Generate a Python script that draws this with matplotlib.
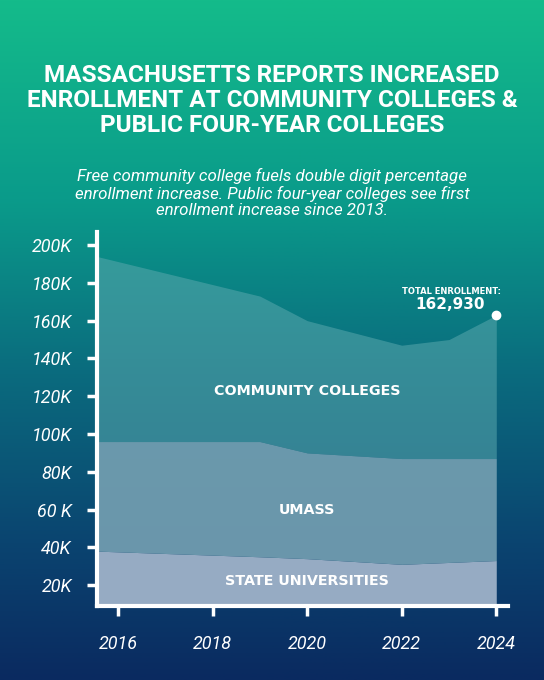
import numpy as np
import matplotlib.pyplot as plt
from matplotlib.colors import LinearSegmentedColormap

years = [2015.55, 2019, 2020, 2022, 2023, 2024]
state = [38, 35, 34, 31, 32, 33]
umass = [58, 61, 56, 56, 55, 54]
cc = [98, 77, 70, 60, 63, 75.93]
yticks = [20, 40, 60, 80, 100, 120, 140, 160, 180, 200]
ylabels = ["20K", "40K", "60 K", "80K", "100K", "120K", "140K", "160K", "180K", "200K"]
xticks = [2016, 2018, 2020, 2022, 2024]

fig = plt.figure(figsize=(5.44, 6.8), dpi=100)
bg = fig.add_axes([0, 0, 1, 1])
cmap = LinearSegmentedColormap.from_list("g", [(0, "#14bb8a"), (0.3, "#0a9a8a"), (0.55, "#0a6b7e"), (0.8, "#0a4470"), (1, "#0a2a60")])
bg.imshow(np.linspace(0, 1, 256)[:, None], aspect="auto", cmap=cmap, extent=[0, 1, 0, 1])
bg.axis("off")

fig.text(0.5, 0.852, "MASSACHUSETTS REPORTS INCREASED\nENROLLMENT AT COMMUNITY COLLEGES &\nPUBLIC FOUR-YEAR COLLEGES",
         ha="center", va="center", color="white", fontsize=17.5, fontweight="bold", family="Roboto", linespacing=1.1)
fig.text(0.5, 0.716, "Free community college fuels double digit percentage\nenrollment increase. Public four-year colleges see first\nenrollment increase since 2013.",
         ha="center", va="center", color="white", fontsize=12.2, style="italic", family="Roboto", linespacing=1.1)

ax = fig.add_axes([0.178, 0.109, 0.756, 0.55])
ax.patch.set_alpha(0)
s = np.array(state); u = s + np.array(umass); t = u + np.array(cc)
ax.fill_between(years, 0, s, color="#96abc3", lw=0)
ax.fill_between(years, s, u, color="#75a0b2", alpha=0.9, lw=0)
ax.fill_between(years, u, t, color="#5aa8ad", alpha=0.55, lw=0)
ax.plot([years[-1]], [162.93], "o", color="white", ms=6, zorder=5)
ax.text(2024.1, 173, "TOTAL ENROLLMENT:", ha="right", va="bottom", color="white", fontsize=6, fontweight="bold")
ax.text(2023.75, 164.5, "162,930", ha="right", va="bottom", color="white", fontsize=11, fontweight="bold")
ax.text(2020, 123, "COMMUNITY COLLEGES", ha="center", va="center", color="white", fontsize=10.3, fontweight="bold")
ax.text(2020, 60, "UMASS", ha="center", va="center", color="white", fontsize=10.3, fontweight="bold")
ax.text(2020, 22, "STATE UNIVERSITIES", ha="center", va="center", color="white", fontsize=10.3, fontweight="bold")

ax.set_xlim(2015.55, 2024.25)
ax.set_ylim(9, 207)
ax.set_yticks(yticks)
ax.set_yticklabels(ylabels)
ax.set_xticks(xticks)
for sp in ["top", "right"]:
    ax.spines[sp].set_visible(False)
for sp in ["left", "bottom"]:
    ax.spines[sp].set_color("white")
    ax.spines[sp].set_linewidth(3)
ax.tick_params(colors="white", labelsize=13, width=2.5, length=7)
ax.tick_params(axis="y", pad=11)
ax.tick_params(axis="x", pad=14)
for lab in ax.get_xticklabels() + ax.get_yticklabels():
    lab.set_style("italic")
    lab.set_family("Roboto")
fig.savefig("out.png", dpi=100)
